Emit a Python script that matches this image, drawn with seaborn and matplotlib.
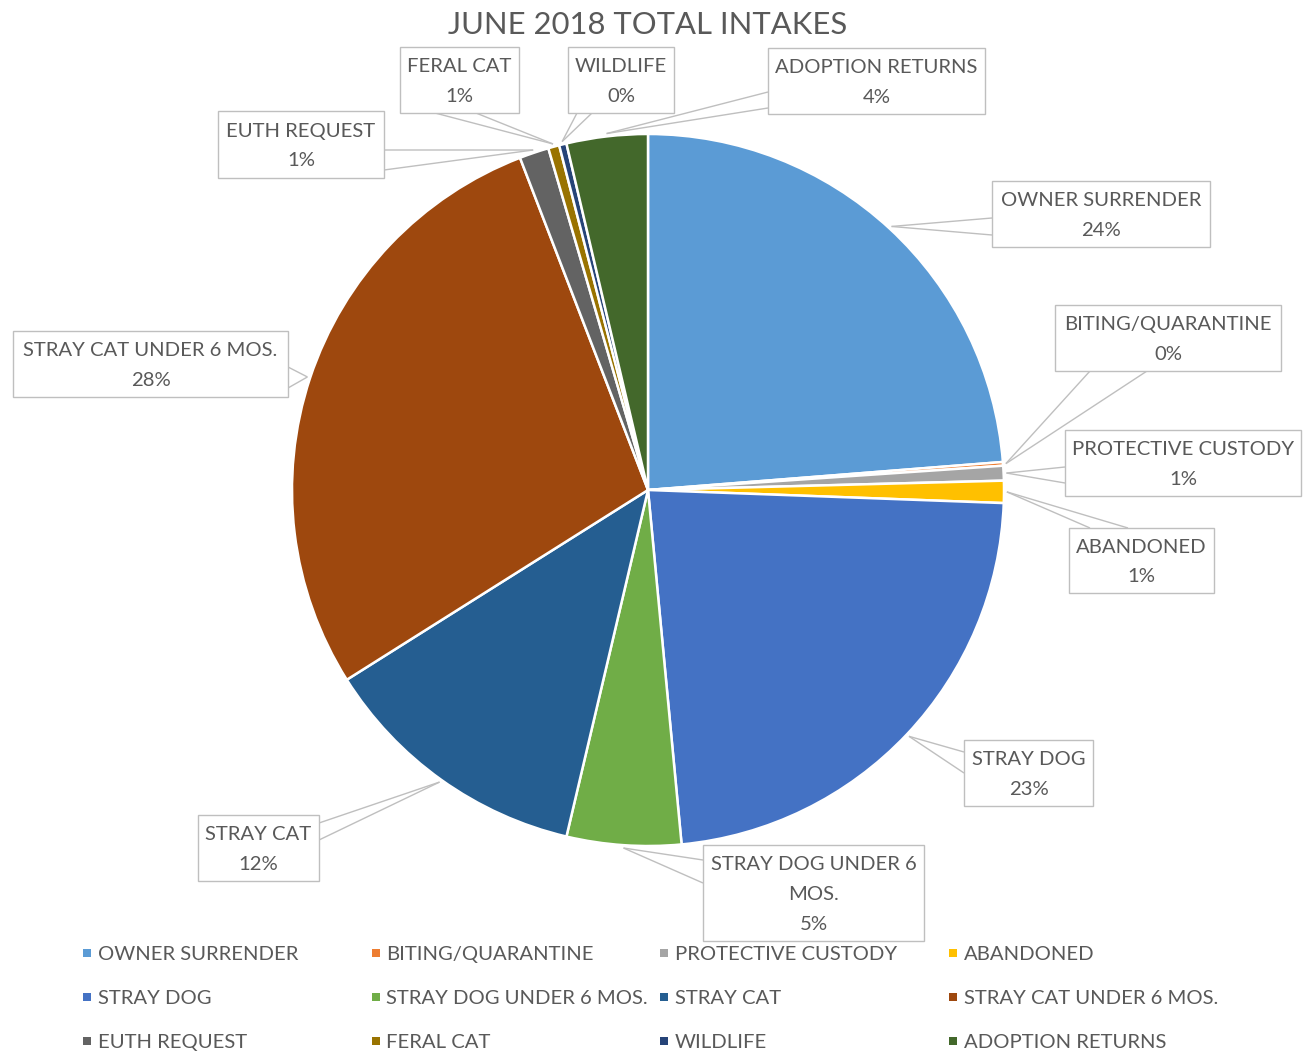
import matplotlib
matplotlib.use("Agg")
import numpy as np
import seaborn as sns
import matplotlib.pyplot as plt
from matplotlib.patches import Rectangle

# ---- data ----
categories = ["OWNER SURRENDER", "BITING/QUARANTINE", "PROTECTIVE CUSTODY", "ABANDONED",
              "STRAY DOG", "STRAY DOG UNDER 6 MOS.", "STRAY CAT", "STRAY CAT UNDER 6 MOS.",
              "EUTH REQUEST", "FERAL CAT", "WILDLIFE", "ADOPTION RETURNS"]
values = [142, 1, 4, 6, 137, 31, 74, 168, 8, 3, 2, 22]
colors = ["#5B9BD5", "#ED7D31", "#A5A5A5", "#FFC000", "#4472C4", "#70AD47",
          "#255E91", "#9E480E", "#636363", "#997300", "#264478", "#43682B"]
title = "JUNE 2018 TOTAL INTAKES"

sns.set_theme(style="white")
plt.rcParams["font.family"] = ["Lato", "DejaVu Sans"]
TXT = "#595959"
EDGE = "#BFBFBF"
FS = 14.6
LINE_GAP = 29.5

fig = plt.figure(figsize=(13.11, 10.54), dpi=100)
ax = fig.add_axes([0, 0, 1, 1])

CX, CY, R = 648, 490, 356
palette = sns.color_palette(colors)
wedges, _ = ax.pie(values, colors=palette, startangle=-90, counterclock=True,
                   center=(CX, CY), radius=R,
                   wedgeprops=dict(edgecolor="white", linewidth=1.8))
ax.set_xlim(0, 1311)
ax.set_ylim(1054, 0)
ax.axis("off")

total = float(sum(values))
pcts = ["%d%%" % int(round(v / total * 100)) for v in values]

# label box layout: (x0, y0, x1, y1), tail base points, name lines
layout = [
    ((992, 181, 1210, 247), [(992, 218), (992, 235)], ["OWNER SURRENDER"]),
    ((1055, 305, 1281, 371), [(1090, 371), (1147, 371)], ["BITING/QUARANTINE"]),
    ((1065, 430, 1301, 496), [(1065, 467), (1065, 483)], ["PROTECTIVE CUSTODY"]),
    ((1069, 528, 1214, 593), [(1090, 528), (1128, 528)], ["ABANDONED"]),
    ((964, 740, 1093, 806), [(964, 752), (964, 773)], ["STRAY DOG"]),
    ((703, 845, 924, 941), [(703, 860), (703, 883)], ["STRAY DOG UNDER 6", "MOS."]),
    ((198, 815, 319, 881), [(319, 823), (319, 840)], ["STRAY CAT"]),
    ((13, 331, 288, 397), [(288, 367), (288, 388)], ["STRAY CAT UNDER 6 MOS."]),
    ((218, 111, 384, 178), [(384, 150), (384, 170)], ["EUTH REQUEST"]),
    ((400, 47, 519, 113), [(435, 113), (476, 113)], ["FERAL CAT"]),
    ((568, 47, 674, 113), [(577, 113), (592, 113)], ["WILDLIFE"]),
    ((768, 48, 985, 114), [(768, 92), (768, 108)], ["ADOPTION RETURNS"]),
]

for w, pct, (box, base, name_lines) in zip(wedges, pcts, layout):
    mid = np.deg2rad((w.theta1 + w.theta2) / 2.0)
    tx = CX + R * 1.008 * np.cos(mid)
    ty = CY + R * 1.008 * np.sin(mid)
    for bx, by in base:
        ax.plot([tx, bx], [ty, by], color=EDGE, lw=1.0, zorder=3,
                solid_capstyle="butt")
    x0, y0, x1, y1 = box
    ax.add_patch(Rectangle((x0, y0), x1 - x0, y1 - y0, facecolor="white",
                           edgecolor=EDGE, lw=1.0, zorder=4))
    lines = name_lines + [pct]
    n = len(lines)
    cx, cy = (x0 + x1) / 2, (y0 + y1) / 2
    for k, s in enumerate(lines):
        ax.text(cx, cy + (k - (n - 1) / 2) * LINE_GAP, s, ha="center",
                va="center_baseline", fontsize=FS, color=TXT, zorder=5)

ax.text(648, 23, title, ha="center", va="center_baseline", fontsize=22.3, color=TXT)

# legend (row-wise, 4 columns)
for i, (name, c) in enumerate(zip(categories, palette)):
    row, col = divmod(i, 4)
    lx = 83 + 288.5 * col
    ly = 953 + 44 * row
    ax.add_patch(Rectangle((lx, ly - 4), 8, 8, facecolor=c, edgecolor="none", zorder=5))
    ax.text(lx + 15, ly, name, ha="left", va="center_baseline", fontsize=FS, color=TXT)

fig.savefig("out.png", dpi=100, facecolor="white")
